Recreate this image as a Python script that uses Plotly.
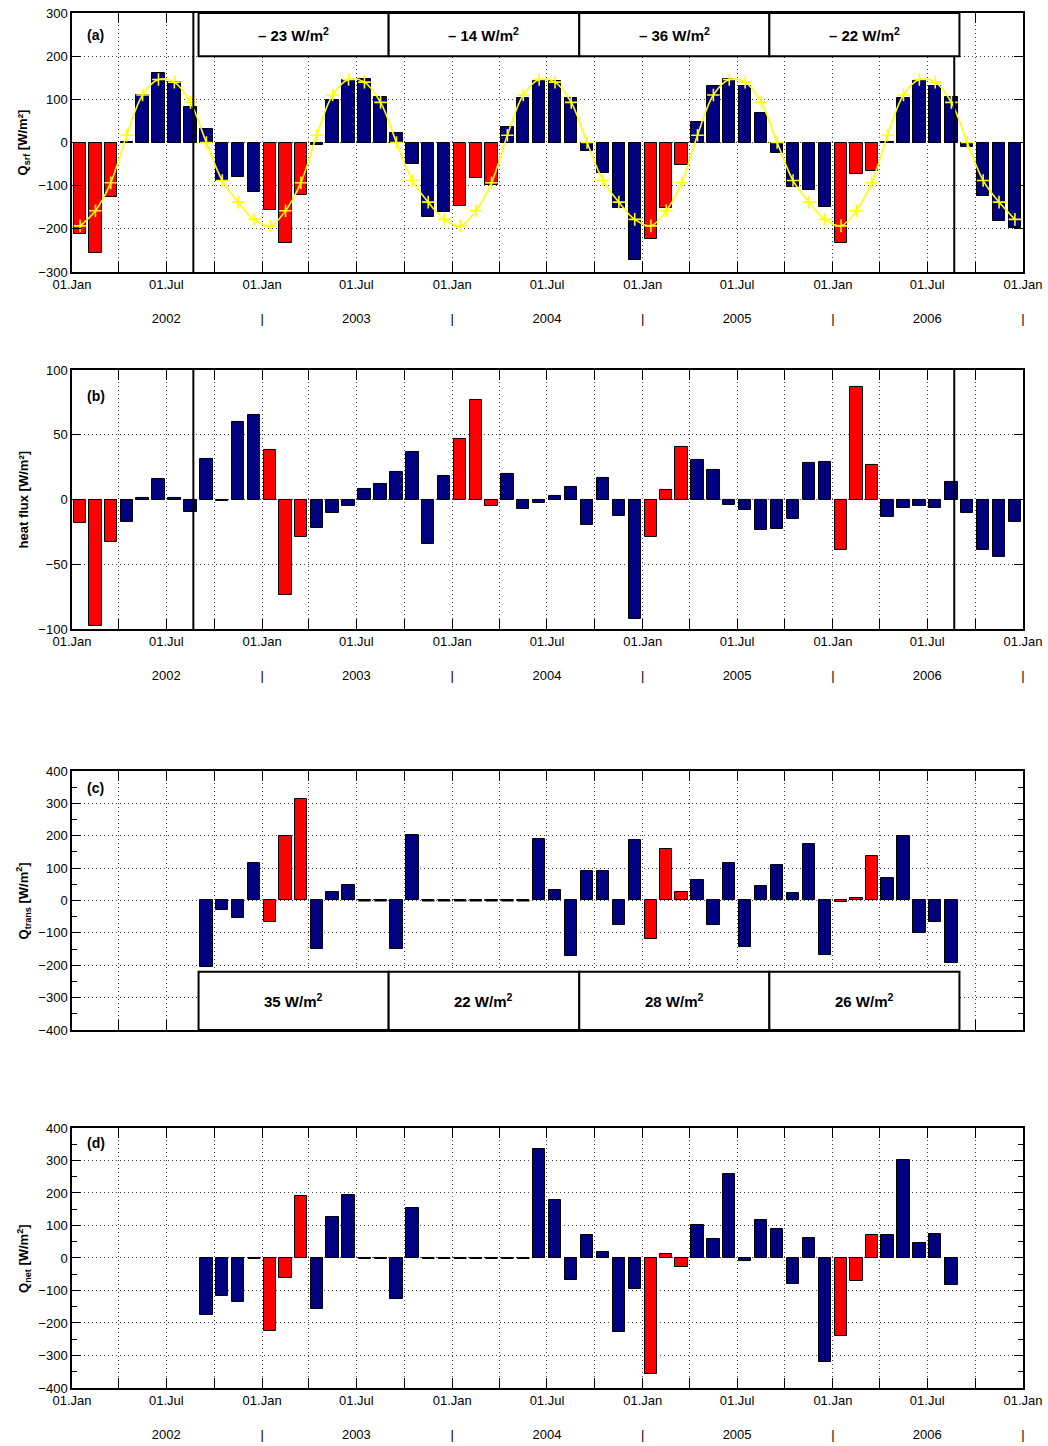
import pandas as pd
import plotly.graph_objects as go

# ---------------- data (monthly, Jan 2002 .. Dec 2006) ----------------
q_srf = [-212, -257, -127, 1, 109, 161, 141, 82, 32, -88, -79, -115,
         -156, -232, -122, -6, 99, 144, 147, 105, 22, -49, -172, -161,
         -148, -82, -99, 37, 102, 142, 142, 102, -19, -70, -151, -272,
         -223, -152, -52, 47, 131, 147, 132, 69, -24, -102, -110, -150,
         -233, -72, -67, 2, 102, 142, 132, 105, -10, -125, -182, -197]

q_srf_clim = [-193, -158, -93, 17, 110, 146, 140, 93, 0, -88, -138, -178]

heat_flux = [-18.5, -98, -33, -17.5, 0.8, 15.7, 1.5, -10, 31, -1, 60, 65,
             38, -73.5, -29, -22, -10.5, -5, 8, 12, 21, 37, -34, 18.5,
             47, 77, -5, 20, -7, -3, 3, 9.5, -19.5, 16.7, -12.6, -92.5,
             -28.7, 7.7, 40.8, 30.8, 22.6, -4.4, -8, -23.6, -23, -15.4, 28.5, 29.2,
             -38.7, 86.7, 26.4, -13.3, -6.9, -5, -6.4, 13.6, -10.3, -39, -44, -17.7]

q_trans = [None] * 8 + [
    -205, -29, -55, 116,
    -66, 199, 313, -150, 27, 47, 0, 0, -150, 203, 0, 0,
    0, 0, 0, 0, 0, 190, 31, -173, 92, 92, -75, 187,
    -118, 160, 26, 63, -75, 116, -144, 45, 109, 22, 174, -167,
    -6, 7, 138, 70, 199, -100, -66, -192] + [None] * 4

q_net = [None] * 8 + [
    -175, -117, -136, 0,
    -225, -61, 190, -158, 127, 193, 0, 0, -126, 155, 0, 0,
    0, 0, 0, 0, 0, 336, 179, -68, 72, 20, -227, -95,
    -358, 11, -28, 103, 59, 259, -8, 116, 88, -80, 61, -320,
    -241, -71, 72, 71, 303, 46, 74, -82] + [None] * 4

period_starts = ["2002-09-01", "2003-09-01", "2004-09-01", "2005-09-01"]
period_ends = ["2003-09-01", "2004-09-01", "2005-09-01", "2006-09-01"]
srf_period_labels = ["\u2013 23 W/m<sup>2</sup>", "\u2013 14 W/m<sup>2</sup>",
                     "\u2013 36 W/m<sup>2</sup>", "\u2013 22 W/m<sup>2</sup>"]
trans_period_labels = ["35 W/m<sup>2</sup>", "22 W/m<sup>2</sup>",
                       "28 W/m<sup>2</sup>", "26 W/m<sup>2</sup>"]
marker_lines = ["2002-08-22", "2006-08-22"]

# ---------------- derived positions ----------------
month_start = pd.date_range("2002-01-01", periods=61, freq="MS")
centers = month_start[:-1] + (month_start[1:] - month_start[:-1]) / 2
xc = list(centers.strftime("%Y-%m-%d %H:%M:%S"))
bar_w_ms = 0.78 * 30.44 * 86400000
colors = ["#ff0000" if m.month in (1, 2, 3) else "#000080" for m in month_start[:-1]]

quarters = pd.date_range("2002-01-01", "2007-01-01", freq="QS")
tickvals = list(quarters.strftime("%Y-%m-%d"))
ticktext = []
for d in quarters:
    if d.month == 1:
        ticktext.append("01.Jan" + ("<br> <br>|" if d.year > 2002 else ""))
    elif d.month == 7:
        ticktext.append("01.Jul<br> <br>" + str(d.year))
    else:
        ticktext.append("")

FONT = "Liberation Sans, Arial, Helvetica, sans-serif"
fig = go.Figure()


def add_bars(vals, ax):
    fig.add_trace(go.Bar(
        x=xc, y=vals, width=[bar_w_ms] * len(xc),
        marker=dict(color=colors, line=dict(color="black", width=1)),
        xaxis="x" + ax, yaxis="y" + ax, showlegend=False, hoverinfo="x+y"))


def add_zero_dashes(vals, ax):
    xs, ys = [], []
    hw = pd.Timedelta(milliseconds=bar_w_ms / 2)
    for c, v in zip(centers, vals):
        if v == 0:
            xs += [(c - hw).strftime("%Y-%m-%d %H:%M:%S"),
                   (c + hw).strftime("%Y-%m-%d %H:%M:%S"), None]
            ys += [0, 0, None]
    fig.add_trace(go.Scatter(x=xs, y=ys, mode="lines",
                             line=dict(color="black", width=2),
                             xaxis="x" + ax, yaxis="y" + ax,
                             showlegend=False, hoverinfo="skip"))


add_bars(q_srf, "")
fig.add_trace(go.Scatter(
    x=xc, y=q_srf_clim * 5, mode="lines+markers",
    line=dict(color="#ffff00", width=1.6, shape="spline", smoothing=1.0),
    marker=dict(symbol="cross-thin", size=9, color="#ffff00",
                line=dict(color="#ffff00", width=1.6)),
    xaxis="x", yaxis="y", showlegend=False))
add_bars(heat_flux, "2")
add_bars(q_trans, "3")
add_zero_dashes(q_trans, "3")
add_bars(q_net, "4")
add_zero_dashes(q_net, "4")

# ---------------- axes ----------------
domains = [[0.8116, 1.0], [0.552, 0.7404], [0.2604, 0.4487], [0.0, 0.1891]]
yranges = [[-300, 300], [-100, 100], [-400, 400], [-400, 400]]
ydticks = [100, 50, 100, 100]
grid = dict(showgrid=True, gridcolor="#444444", griddash="1px,3px", gridwidth=1)

layout = dict(
    width=1048, height=1446, plot_bgcolor="white", paper_bgcolor="white",
    margin=dict(l=72, r=25, t=13, b=58, autoexpand=False), bargap=0, barmode="overlay",
    font=dict(family=FONT, size=13, color="black"),
)
shapes, annotations = [], []
for i in range(4):
    s = "" if i == 0 else str(i + 1)
    xa = dict(type="date", range=["2002-01-01", "2007-01-01"], domain=[0, 1],
              anchor="y" + s, tickmode="array", tickvals=tickvals, ticktext=ticktext,
              ticks="inside", ticklen=10, tickwidth=1, tickcolor="black",
              mirror="allticks", showline=True, linecolor="black", linewidth=1.5,
              zeroline=False, tickangle=0, showticklabels=(i != 2), automargin=False,
              tickfont=dict(family=FONT, size=13, color="black"), **grid)
    ya = dict(domain=domains[i], anchor="x" + s, range=yranges[i], dtick=ydticks[i],
              tick0=0, ticks="inside", ticklen=9, tickwidth=1, tickcolor="black",
              mirror="allticks", showline=True, linecolor="black", linewidth=1.5,
              zeroline=False, automargin=False,
              tickfont=dict(family=FONT, size=13, color="black"), **grid)
    if i >= 2:
        ya["minor"] = dict(dtick=50, ticks="inside", ticklen=5, tickcolor="black",
                           showgrid=False)
    layout["xaxis" + s] = xa
    layout["yaxis" + s] = ya

fig.update_layout(**layout)

# vertical marker lines in (a) and (b)
for ax in ["", "2"]:
    for xl in marker_lines:
        shapes.append(dict(type="line", xref="x" + ax, yref="y" + ax + " domain",
                           x0=xl, x1=xl, y0=0, y1=1,
                           line=dict(color="black", width=2)))

# period boxes
for k in range(4):
    shapes.append(dict(type="rect", xref="x", yref="y", x0=period_starts[k],
                       x1=period_ends[k], y0=200, y1=300, fillcolor="white",
                       line=dict(color="black", width=2)))
    shapes.append(dict(type="rect", xref="x3", yref="y3", x0=period_starts[k],
                       x1=period_ends[k], y0=-400, y1=-220, fillcolor="white",
                       line=dict(color="black", width=2)))
    mid = pd.Timestamp(period_starts[k]) + (pd.Timestamp(period_ends[k]) - pd.Timestamp(period_starts[k])) / 2
    mids = mid.strftime("%Y-%m-%d")
    annotations.append(dict(xref="x", yref="y", x=mids, y=250,
                            text="<b>" + srf_period_labels[k] + "</b>", showarrow=False,
                            font=dict(family=FONT, size=15, color="black")))
    annotations.append(dict(xref="x3", yref="y3", x=mids, y=-310,
                            text="<b>" + trans_period_labels[k] + "</b>", showarrow=False,
                            font=dict(family=FONT, size=15, color="black")))

# panel letters
panel_letters = ["(a)", "(b)", "(c)", "(d)"]
letter_y = [0.915, 0.9, 0.934, 0.942]
for i in range(4):
    s = "" if i == 0 else str(i + 1)
    annotations.append(dict(xref="x" + s + " domain", yref="y" + s + " domain",
                            x=0.014, y=letter_y[i], xanchor="left", yanchor="middle",
                            text="<b>" + panel_letters[i] + "</b>", showarrow=False,
                            font=dict(family=FONT, size=14, color="black")))

# y axis titles
ytitles = ["Q<sub>srf</sub> [W/m\u00b2]", "heat flux [W/m\u00b2]",
           "Q<sub>trans</sub> [W/m<sup>2</sup>]", "Q<sub>net</sub> [W/m<sup>2</sup>]"]
for i in range(4):
    s = "" if i == 0 else str(i + 1)
    annotations.append(dict(xref="paper", yref="y" + s + " domain", x=-0.0505, y=0.5,
                            xanchor="center", yanchor="middle", textangle=-90,
                            text="<b>" + ytitles[i] + "</b>", showarrow=False,
                            font=dict(family=FONT, size=13, color="black")))

fig.update_layout(shapes=shapes, annotations=annotations)
fig.write_html("out.html")
